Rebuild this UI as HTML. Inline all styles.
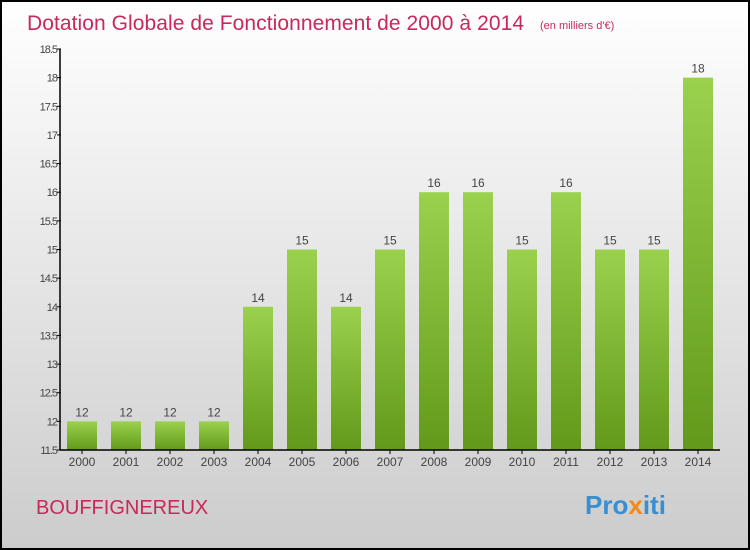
<!DOCTYPE html>
<html><head><meta charset="utf-8"><style>
body{margin:0;width:750px;height:550px;overflow:hidden}
svg{display:block;font-family:"Liberation Sans",sans-serif}
</style></head><body>
<svg width="750" height="550">
<defs>
<linearGradient id="bg" x1="0" y1="0" x2="0" y2="1"><stop offset="0" stop-color="#ffffff"/><stop offset="1" stop-color="#cccccc"/></linearGradient>
<linearGradient id="bar" x1="0" y1="0" x2="0" y2="1"><stop offset="0" stop-color="#9ad24e"/><stop offset="1" stop-color="#62991a"/></linearGradient>
</defs>
<rect x="1" y="1" width="748" height="548" fill="url(#bg)" stroke="#000" stroke-width="2"/>
<text x="27" y="30" font-size="21" fill="#c8285a" textLength="497">Dotation Globale de Fonctionnement de 2000 à 2014</text>
<text x="540" y="29" font-size="11" fill="#c8285a">(en milliers d'€)</text>
<text x="36" y="514" font-size="20" fill="#c8285a">BOUFFIGNEREUX</text>
<text x="585" y="514" font-size="26" font-weight="bold"><tspan fill="#3a8fd0">Pro</tspan><tspan fill="#f08a1c">x</tspan><tspan fill="#3a8fd0">iti</tspan></text>
<g id="plot"></g>
</svg>
<script>
const categories=["2000","2001","2002","2003","2004","2005","2006","2007","2008","2009","2010","2011","2012","2013","2014"];
const values=[12,12,12,12,14,15,14,15,16,16,15,16,15,15,18];
const ticks=[11.5,12,12.5,13,13.5,14,14.5,15,15.5,16,16.5,17,17.5,18,18.5];
const NS="http://www.w3.org/2000/svg";
const g=document.getElementById('plot');
const y=v=>450-(v-11.5)*(401/7);
const x=i=>82+i*44;
function mk(t,a,txt){const e=document.createElementNS(NS,t);for(const k in a)e.setAttribute(k,a[k]);if(txt!==undefined)e.textContent=txt;g.appendChild(e);return e;}
values.forEach((v,i)=>{
 const r=mk('rect',{x:x(i)-15,y:y(v),width:30,height:450-y(v),fill:'url(#bar)'});
 
 
 const l=mk('text',{x:x(i),y:y(v)-5,'font-size':12,fill:'#444','text-anchor':'middle'},String(v));
 
 
 const c=mk('text',{x:x(i),y:466,'font-size':12,fill:'#444','text-anchor':'middle'},categories[i]);
 
 
 mk('line',{x1:x(i),x2:x(i),y1:450,y2:454,stroke:'#000'});
});
ticks.forEach(t=>{
 mk('line',{x1:57,x2:61,y1:y(t),y2:y(t),stroke:'#000'});
 const e=mk('text',{x:57,y:y(t)+4,'font-size':11,fill:'#444','text-anchor':'end','letter-spacing':'-1'},String(t));
 
 
});
const ya=mk('line',{x1:60,x2:60,y1:y(18.5),y2:450,stroke:'#000','stroke-width':1.5});


const xa=mk('line',{x1:60,x2:720,y1:450,y2:450,stroke:'#000','stroke-width':1.5});


</script>
</body></html>
